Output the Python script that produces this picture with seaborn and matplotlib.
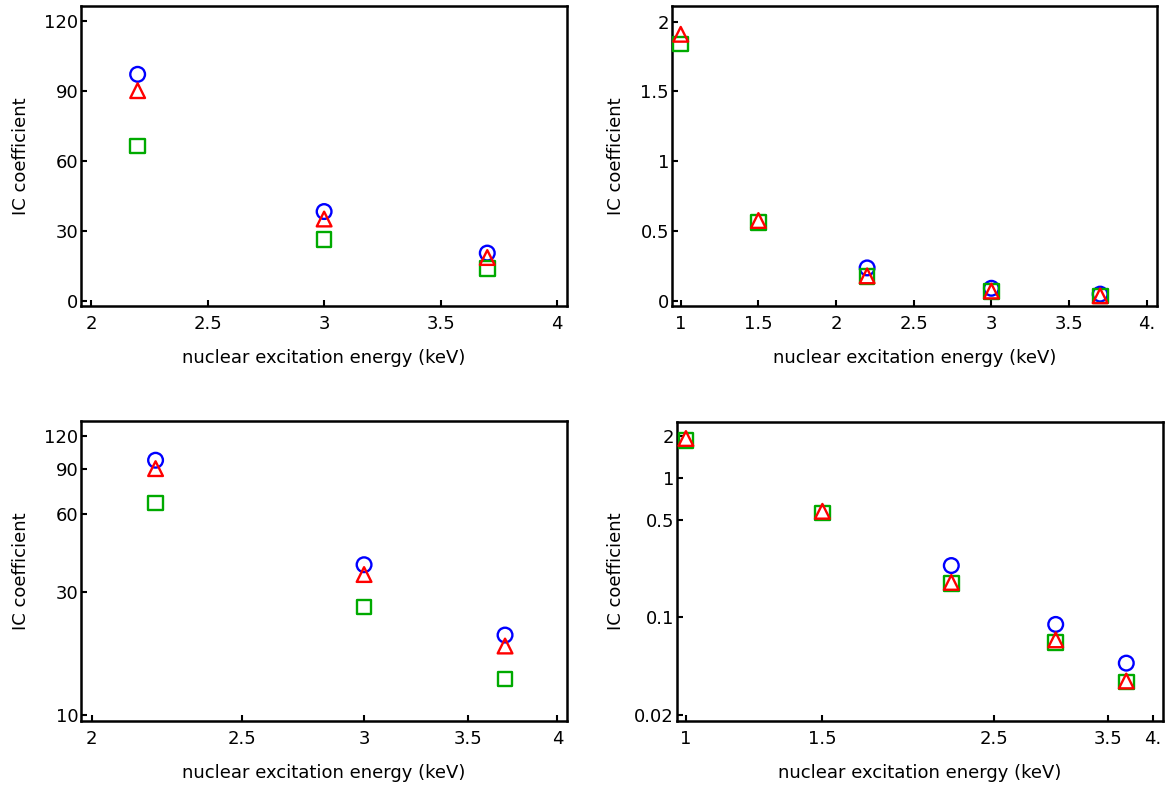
import numpy as np
import pandas as pd
import matplotlib
matplotlib.use("Agg")
import matplotlib.pyplot as plt
import seaborn as sns
from matplotlib.ticker import FixedLocator, FixedFormatter, NullLocator

# ---------------- data ----------------
left_energy = [2.2, 3.0, 3.7]
left_circle = [97.0, 38.2, 20.4]
left_triangle = [90.0, 35.0, 18.5]
left_square = [66.3, 26.2, 13.8]

right_energy = [1.0, 1.5, 2.2, 3.0, 3.7]
right_circle = [np.nan, np.nan, 0.235, 0.089, 0.047]
right_triangle = [1.91, 0.575, 0.178, 0.069, 0.035]
right_square = [1.84, 0.56, 0.175, 0.066, 0.0345]

tl_xticks = [2, 2.5, 3, 3.5, 4]
tl_xlabels = ["2", "2.5", "3", "3.5", "4"]
tl_yticks = [0, 30, 60, 90, 120]
tl_ylabels = ["0", "30", "60", "90", "120"]

tr_xticks = [1, 1.5, 2, 2.5, 3, 3.5, 4]
tr_xlabels = ["1", "1.5", "2", "2.5", "3", "3.5", "4."]
tr_yticks = [0, 0.5, 1, 1.5, 2]
tr_ylabels = ["0", "0.5", "1", "1.5", "2"]

bl_xticks = [2, 2.5, 3, 3.5, 4]
bl_xlabels = ["2", "2.5", "3", "3.5", "4"]
bl_yticks = [10, 30, 60, 90, 120]
bl_ylabels = ["10", "30", "60", "90", "120"]

br_xticks = [1, 1.5, 2.5, 3.5, 4]
br_xlabels = ["1", "1.5", "2.5", "3.5", "4."]
br_yticks = [0.02, 0.1, 0.5, 1, 2]
br_ylabels = ["0.02", "0.1", "0.5", "1", "2"]

x_label = "nuclear excitation energy (keV)"
y_label = "IC coefficient"

# ---------------- style ----------------
sns.set_theme(style="white")
plt.rcParams["font.family"] = ["DejaVu Sans"]

W, H = 1167, 787
fig = plt.figure(figsize=(W / 100, H / 100), dpi=100)

def frac(left, right, top, bottom):
    return [left / W, (H - bottom) / H, (right - left) / W, (bottom - top) / H]

BLUE = "#0000FF"
RED = "#FF0000"
GREEN = "#00AA00"
S = 112
LW = 1.7

def draw(ax, x, circ, sq, tri):
    sns.scatterplot(x=x, y=circ, ax=ax, marker="o", s=S, facecolors="none",
                    edgecolor=BLUE, linewidth=LW, zorder=3, legend=False)
    sns.scatterplot(x=x, y=sq, ax=ax, marker="s", s=S, facecolors="none",
                    edgecolor=GREEN, linewidth=LW, zorder=4, legend=False)
    sns.scatterplot(x=x, y=tri, ax=ax, marker="^", s=S, facecolors="none",
                    edgecolor=RED, linewidth=LW, zorder=5, legend=False)

def style(ax, xt, xl, yt, yl, xlim, ylim, logx=False, logy=False):
    if logx:
        ax.set_xscale("log")
    if logy:
        ax.set_yscale("log")
    ax.set_xlim(*xlim)
    ax.set_ylim(*ylim)
    ax.xaxis.set_major_locator(FixedLocator(xt))
    ax.xaxis.set_major_formatter(FixedFormatter(xl))
    ax.yaxis.set_major_locator(FixedLocator(yt))
    ax.yaxis.set_major_formatter(FixedFormatter(yl))
    ax.xaxis.set_minor_locator(NullLocator())
    ax.yaxis.set_minor_locator(NullLocator())
    ax.tick_params(axis="x", which="major", direction="in", length=4.3, width=1.5,
                   pad=6.5, labelsize=13, colors="black", bottom=True, top=False)
    ax.tick_params(axis="y", which="major", direction="in", length=4.3, width=1.5,
                   pad=2, labelsize=13, colors="black", left=True, right=False)
    for sp in ax.spines.values():
        sp.set_visible(True)
        sp.set_linewidth(1.8)
        sp.set_color("black")
    ax.set_xlabel(x_label, fontsize=13, color="black", labelpad=12)
    ax.set_ylabel(y_label, fontsize=13, color="black")
    ax.grid(False)

ax1 = fig.add_axes(frac(81, 567, 5.7, 306))
draw(ax1, left_energy, left_circle, left_square, left_triangle)
style(ax1, tl_xticks, tl_xlabels, tl_yticks, tl_ylabels, (1.957, 4.042), (-2.27, 126.4))

ax2 = fig.add_axes(frac(671.7, 1156.7, 5.7, 306))
draw(ax2, right_energy, right_circle, right_square, right_triangle)
style(ax2, tr_xticks, tr_xlabels, tr_yticks, tr_ylabels, (0.942, 4.064), (-0.038, 2.115))

ax3 = fig.add_axes(frac(81, 567.3, 420.7, 721))
draw(ax3, left_energy, left_circle, left_square, left_triangle)
style(ax3, bl_xticks, bl_xlabels, bl_yticks, bl_ylabels, (1.969, 4.059), (9.48, 138),
      logx=True, logy=True)

ax4 = fig.add_axes(frac(676.7, 1163.3, 421.7, 721))
draw(ax4, right_energy, right_circle, right_square, right_triangle)
style(ax4, br_xticks, br_xlabels, br_yticks, br_ylabels, (0.973, 4.13), (0.0181, 2.52),
      logx=True, logy=True)

for ax, xpix in [(ax1, 21), (ax2, 616), (ax3, 21), (ax4, 616)]:
    bb = ax.get_position()
    ax.yaxis.set_label_coords((xpix / W - bb.x0) / bb.width, 0.5)
for ax, ypix in [(ax1, 358), (ax2, 358), (ax3, 773), (ax4, 773)]:
    bb = ax.get_position()
    ax.xaxis.set_label_coords(0.5, ((H - ypix) / H - bb.y0) / bb.height)
    ax.xaxis.label.set_va("center")
for ax in [ax1, ax2, ax3, ax4]:
    ax.yaxis.label.set_va("center")

fig.savefig("out.png", dpi=100, facecolor="white")
